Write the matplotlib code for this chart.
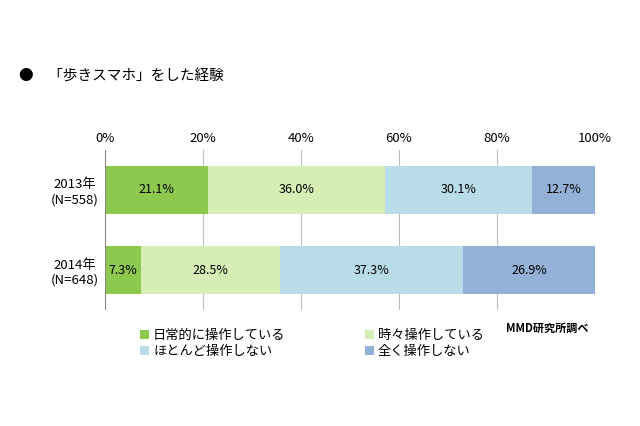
import matplotlib
matplotlib.use("Agg")
import matplotlib.pyplot as plt
import numpy as np

plt.rcParams["font.family"] = ["Noto Sans CJK JP"]

years = ["2013年\n(N=558)", "2014年\n(N=648)"]
series = ["日常的に操作している", "時々操作している", "ほとんど操作しない", "全く操作しない"]
values = [[21.1, 7.3], [36.0, 28.5], [30.1, 37.3], [12.7, 26.9]]
colors = ["#8dc84f", "#d7edb6", "#b8dde8", "#93b1d6"]
ticks = [0, 20, 40, 60, 80, 100]

fig = plt.figure(figsize=(6.4, 4.26), dpi=100)
ax = fig.add_axes([0.164, 0.272, 0.766, 0.376])
y = np.arange(len(years))
left = np.zeros(len(years))
for name, vals, c in zip(series, values, colors):
    vals = np.array(vals)
    ax.barh(y, vals, left=left, height=0.6, color=c, label=name, zorder=3)
    for yi, l, v in zip(y, left, vals):
        ax.text(l + v / 2, yi, f"{v:.1f}%", ha="center", va="center", fontsize=9, zorder=4)
    left += vals
ax.set_xlim(0, 100)
ax.set_ylim(1.5, -0.5)
ax.set_xticks(ticks)
ax.set_xticklabels([f"{t}%" for t in ticks], fontsize=9.5)
ax.xaxis.tick_top()
ax.tick_params(length=0)
ax.set_yticks(y)
ax.set_yticklabels(years, fontsize=9.5, ha="center")
ax.tick_params(axis="y", pad=22)
ax.grid(axis="x", color="#bfbfbf", lw=0.8, zorder=0)
for s in ax.spines.values():
    s.set_visible(False)
ax.axvline(0, color="#888888", lw=0.8, zorder=5)

fig.text(0.03, 0.81, "●　「歩きスマホ」をした経験", fontsize=10.5)
h, l = ax.get_legend_handles_labels()
order = [0, 2, 1, 3]
fig.legend([h[i] for i in order], [l[i] for i in order], loc="upper left",
           bbox_to_anchor=(0.2, 0.255), ncol=2, frameon=False,
           fontsize=9.5, handlelength=0.7, handleheight=0.7, columnspacing=6,
           labelspacing=0.2, handletextpad=0.3)
fig.text(0.79, 0.222, "MMD研究所調べ", fontsize=8, fontweight="bold")
fig.savefig("out.png", dpi=100)
